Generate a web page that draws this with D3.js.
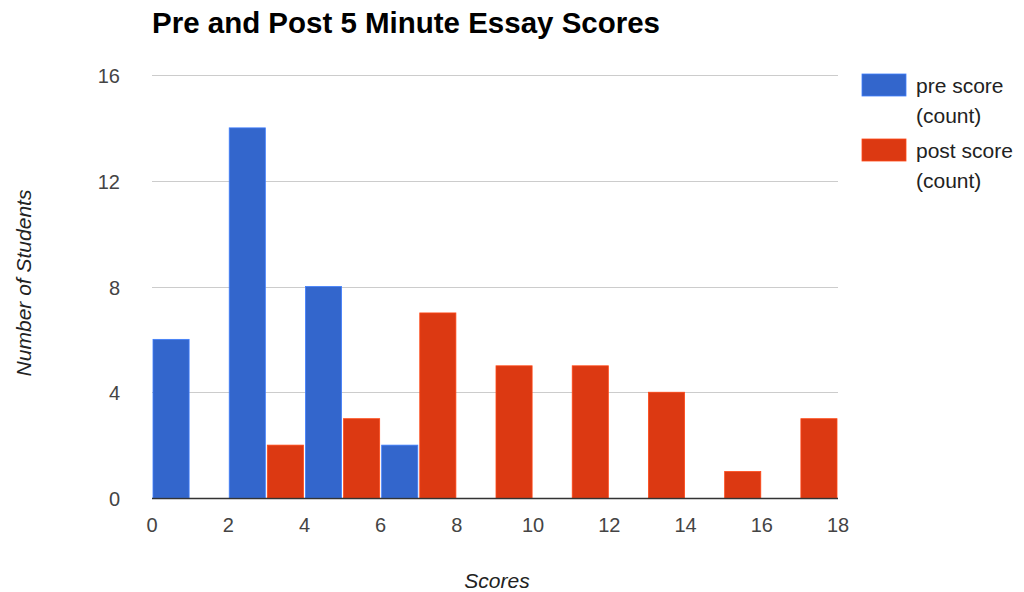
<!DOCTYPE html>
<html><head><meta charset="utf-8">
<script src="https://cdn.jsdelivr.net/npm/d3@7"></script>
<style>body{margin:0;background:#fff;}svg{display:block;font-family:"Liberation Sans",Arial,sans-serif;}</style>
</head><body>
<svg id="c" width="1024" height="592"></svg>
<script>
const binStarts = [0, 2, 4, 6, 8, 10, 12, 14, 16];
const preCounts = [6, 14, 8, 2, 0, 0, 0, 0, 0];
const postCounts = [0, 2, 3, 7, 5, 5, 4, 1, 3];
const seriesNames = ["pre score (count)", "post score (count)"];
const seriesColors = ["#3366cc", "#dc3912"];
const xTicks = [0, 2, 4, 6, 8, 10, 12, 14, 16, 18];
const yTicks = [0, 4, 8, 12, 16];

const svg = d3.select("#c");
const x = d3.scaleLinear().domain([0, 18]).range([152, 838]);
const y = d3.scaleLinear().domain([0, 16]).range([498, 75]);

svg.append("text").attr("x", 152).attr("y", 33).attr("font-size", 29).attr("font-weight", "bold")
  .attr("fill", "#000").attr("textLength", 508).attr("lengthAdjust", "spacingAndGlyphs")
  .text("Pre and Post 5 Minute Essay Scores");

// gridlines
svg.append("g").selectAll("line").data(yTicks.filter(d => d > 0)).join("line")
  .attr("x1", x(0)).attr("x2", x(18)).attr("y1", d => Math.round(y(d)) + 0.5).attr("y2", d => Math.round(y(d)) + 0.5)
  .attr("stroke", "#cccccc").attr("stroke-width", 1);

// y tick labels
svg.append("g").selectAll("text").data(yTicks).join("text")
  .attr("x", 120).attr("y", d => y(d) + 8).attr("text-anchor", "end")
  .attr("font-size", 20).attr("fill", "#444").text(d => d);

// x tick labels
svg.append("g").selectAll("text").data(xTicks).join("text")
  .attr("x", d => x(d)).attr("y", 532).attr("text-anchor", "middle")
  .attr("font-size", 20).attr("fill", "#444").text(d => d);

// bars
const series = [preCounts, postCounts];
series.forEach((vals, si) => {
  svg.append("g").selectAll("rect").data(binStarts.map((b, i) => ({b, v: vals[i]})).filter(d => d.v > 0)).join("rect")
    .attr("x", d => x(d.b + si) + 1)
    .attr("width", d => x(d.b + si + 1) - x(d.b + si) - 2)
    .attr("y", d => y(d.v))
    .attr("height", d => y(0) - y(d.v))
    .attr("fill", seriesColors[si])
    .attr("stroke", d3.color(seriesColors[si]).brighter(0.6))
    .attr("stroke-width", 0.8);
});

// baseline
svg.append("line").attr("x1", x(0)).attr("x2", x(18)).attr("y1", 498.5).attr("y2", 498.5)
  .attr("stroke", "#333").attr("stroke-width", 1.5);

// axis titles
svg.append("text").attr("x", 497).attr("y", 588).attr("text-anchor", "middle")
  .attr("font-size", 21).attr("font-style", "italic").attr("fill", "#222").text("Scores");
svg.append("text").attr("transform", "translate(31,283) rotate(-90)").attr("text-anchor", "middle")
  .attr("font-size", 21).attr("font-style", "italic").attr("fill", "#222").text("Number of Students");

// legend
const lg = svg.append("g");
seriesNames.forEach((name, i) => {
  const top = 74 + i * 65;
  lg.append("rect").attr("x", 862).attr("y", top).attr("width", 44).attr("height", 22)
    .attr("fill", seriesColors[i]).attr("stroke", d3.color(seriesColors[i]).brighter(0.6)).attr("stroke-width", 0.8);
  const parts = [name.replace(" (count)", ""), "(count)"];
  parts.forEach((p, j) => {
    lg.append("text").attr("x", 916).attr("y", top + 19 + j * 30).attr("font-size", 21)
      .attr("fill", "#222").text(p);
  });
});
</script>
</body></html>
